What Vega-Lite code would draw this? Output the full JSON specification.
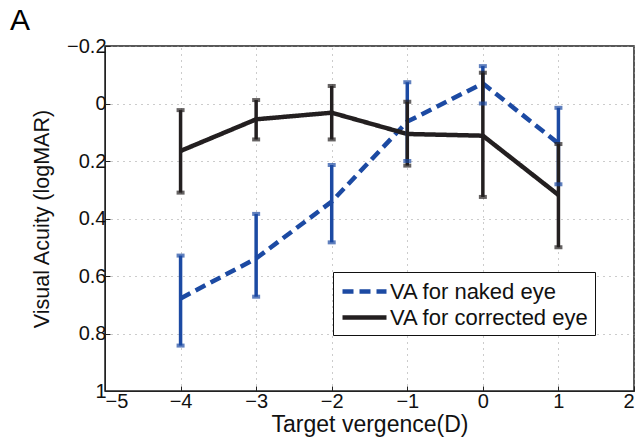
{
  "$schema": "https://vega.github.io/schema/vega-lite/v6.json",
  "width": 529,
  "height": 345,
  "autosize": {"type": "none"},
  "padding": {"left": 105, "top": 46, "right": 7, "bottom": 52},
  "background": "white",
  "title": {"text": "A", "anchor": "start", "frame": "group", "orient": "top", "dx": -95, "offset": 0, "fontSize": 30, "fontWeight": "normal", "font": "Liberation Sans", "color": "black"},
  "config": {
    "font": "Liberation Sans",
    "view": {"stroke": "#222", "strokeWidth": 1.5},
    "axis": {
      "labelFont": "Liberation Sans", "titleFont": "Liberation Sans",
      "labelFontSize": 20, "titleFontSize": 23, "labelColor": "#111", "titleColor": "#111",
      "titleFontWeight": "normal", "domainColor": "#222", "tickColor": "#222",
      "gridColor": "#999", "gridDash": [1, 5], "gridWidth": 1, "tickSize": -5
    }
  },
  "data": {"values": [
    {"series": "VA for naked eye", "x": -4, "y": 0.678, "lo": 0.529, "hi": 0.842},
    {"series": "VA for naked eye", "x": -3, "y": 0.539, "lo": 0.384, "hi": 0.672},
    {"series": "VA for naked eye", "x": -2, "y": 0.341, "lo": 0.214, "hi": 0.483},
    {"series": "VA for naked eye", "x": -1, "y": 0.063, "lo": -0.074, "hi": 0.2},
    {"series": "VA for naked eye", "x": 0, "y": -0.07, "lo": -0.13, "hi": 0.0},
    {"series": "VA for naked eye", "x": 1, "y": 0.139, "lo": 0.015, "hi": 0.281},
    {"series": "VA for corrected eye", "x": -4, "y": 0.165, "lo": 0.023, "hi": 0.31},
    {"series": "VA for corrected eye", "x": -3, "y": 0.055, "lo": -0.012, "hi": 0.125},
    {"series": "VA for corrected eye", "x": -2, "y": 0.032, "lo": -0.061, "hi": 0.125},
    {"series": "VA for corrected eye", "x": -1, "y": 0.106, "lo": -0.006, "hi": 0.216},
    {"series": "VA for corrected eye", "x": 0, "y": 0.112, "lo": -0.107, "hi": 0.325},
    {"series": "VA for corrected eye", "x": 1, "y": 0.318, "lo": 0.141, "hi": 0.5}
  ]},
  "encoding": {
    "x": {"field": "x", "type": "quantitative",
      "scale": {"domain": [-5, 2], "nice": false, "zero": false},
      "axis": {"title": "Target vergence(D)", "values": [-5, -4, -3, -2, -1, 0, 1, 2], "format": "d", "labelPadding": 5, "titlePadding": 2}},
    "color": {"field": "series", "type": "nominal",
      "scale": {"domain": ["VA for naked eye", "VA for corrected eye"], "range": ["#1c4aa3", "#231f20"]},
      "legend": null}
  },
  "layer": [
    {
      "mark": {"type": "line", "strokeWidth": 4.5},
      "encoding": {
        "y": {"field": "y", "type": "quantitative",
          "scale": {"domain": [-0.2, 1], "reverse": true, "nice": false, "zero": false},
          "axis": {"title": "Visual Acuity (logMAR)", "titleFontSize": 21.5, "values": [-0.2, 0, 0.2, 0.4, 0.6, 0.8, 1], "format": "~g", "labelPadding": 4, "titlePadding": 13}},
        "color": {"field": "series", "type": "nominal",
          "legend": {"orient": "none", "legendX": 228, "legendY": 226, "title": null,
            "symbolType": "M-2,0H2", "symbolSize": 484, "symbolStrokeWidth": 4.5, "symbolOffset": 12,
            "labelFontSize": 22, "labelFont": "Liberation Sans", "labelColor": "#111", "labelLimit": 400,
            "strokeColor": "#111", "fillColor": "white", "padding": 6, "rowPadding": 1,
            "labelOffset": 12}},
        "strokeDash": {"field": "series", "type": "nominal",
          "scale": {"domain": ["VA for naked eye", "VA for corrected eye"], "range": [[11, 6], [1, 0]]},
          "legend": null}
      }
    },
    {
      "mark": {"type": "rule", "strokeWidth": 3.5},
      "encoding": {
        "y": {"field": "lo", "type": "quantitative"},
        "y2": {"field": "hi"}
      }
    },
    {
      "mark": {"type": "tick", "orient": "horizontal", "size": 8, "thickness": 4},
      "encoding": {"y": {"field": "lo", "type": "quantitative"}}
    },
    {
      "mark": {"type": "tick", "orient": "horizontal", "size": 8, "thickness": 4},
      "encoding": {"y": {"field": "hi", "type": "quantitative"}}
    }
  ]
}
